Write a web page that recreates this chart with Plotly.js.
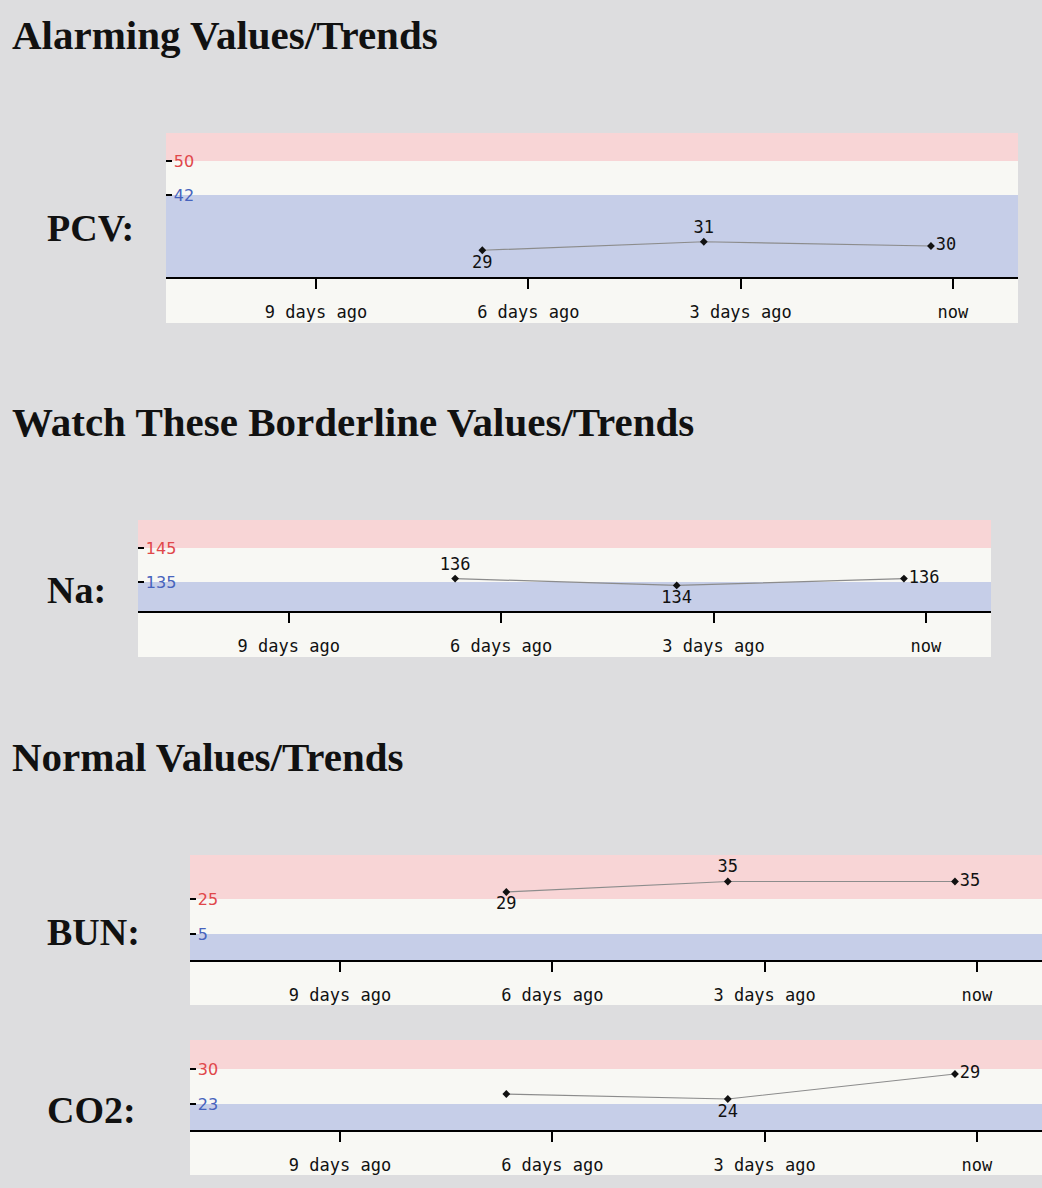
<!DOCTYPE html>
<html>
<head>
<meta charset="utf-8">
<script src="https://cdn.plot.ly/plotly-3.0.1.min.js"></script>
<style>
  html, body { margin: 0; padding: 0; background: #dedee0; }
  #chart { width: 1042px; height: 1188px; }
</style>
</head>
<body>
<div id="chart"></div>
<script>
// ---------- data ----------
const sectionTitles = ['Alarming Values/Trends', 'Watch These Borderline Values/Trends', 'Normal Values/Trends'];
const testNames = ['PCV:', 'Na:', 'BUN:', 'CO2:'];
const daysAgo = [-6.65, -3.52, -0.31];
const tickDays = [-9, -6, -3, 0];
const tickLabels = ['9 days ago', '6 days ago', '3 days ago', 'now'];

const pcvValues = [29, 31, 30];
const naValues = [136, 134, 136];
const bunValues = [29, 35, 35];
const co2Values = [25, 24, 29];

const pcvLabels = ['29', '31', '30'];
const naLabels = ['136', '134', '136'];
const bunLabels = ['29', '35', '35'];
const co2Labels = ['', '24', '29'];

const lowLimits = [42, 135, 5, 23];
const highLimits = [50, 145, 25, 30];

// ---------- layout geometry (pixels of the 1042x1188 page) ----------
const W = 1042, H = 1188;
const panels = [
  {left: 166, right: 1018, top: 133, axis: 277, bottom: 323, yRange: [22.71, 56.59], xRange: [-11.12, 0.92], pos: ['bottom center', 'top center', 'middle right'], titleY: 228},
  {left: 138, right: 991,  top: 520, axis: 611, bottom: 657, yRange: [126.47, 153.24], xRange: [-11.13, 0.92], pos: ['top center', 'bottom center', 'middle right'], titleY: 590},
  {left: 190, right: 1042, top: 855, axis: 960, bottom: 1005, yRange: [-9.86, 50.14], xRange: [-11.12, 0.92], pos: ['bottom center', 'top center', 'middle right'], titleY: 932},
  {left: 190, right: 1042, top: 1040, axis: 1130, bottom: 1175, yRange: [17.8, 35.8], xRange: [-11.12, 0.92], pos: ['top center', 'bottom center', 'middle right'], titleY: 1110}
];
const sectionY = [35, 422, 757];

const seriesValues = [pcvValues, naValues, bunValues, co2Values];
const seriesLabels = [pcvLabels, naLabels, bunLabels, co2Labels];

const PINK = '#f8d5d6';
const BLUE = '#c6cee8';
const WHITE = '#f8f8f4';
const RED_TXT = '#e0474a';
const BLUE_TXT = '#4763bd';

const traces = [];
const shapes = [];
const annotations = [];
const layout = {
  width: W, height: H,
  margin: {l: 0, r: 0, t: 0, b: 0},
  paper_bgcolor: '#dddddf',
  plot_bgcolor: 'rgba(0,0,0,0)',
  showlegend: false,
  font: {family: 'DejaVu Sans Mono', color: '#111'}
};

panels.forEach((p, i) => {
  const n = i === 0 ? '' : String(i + 1);
  const xa = 'x' + n, ya = 'y' + n;
  layout['xaxis' + n] = {
    domain: [p.left / W, p.right / W],
    range: p.xRange,
    anchor: ya,
    showgrid: false, zeroline: false,
    showline: true, linecolor: '#000', linewidth: 2,
    ticks: 'outside', ticklen: 10, tickwidth: 2, tickcolor: '#000',
    tickvals: tickDays, ticktext: tickLabels,
    ticklabelstandoff: 9,
    tickfont: {family: 'DejaVu Sans Mono', size: 17, color: '#111'},
    fixedrange: true
  };
  layout['yaxis' + n] = {
    domain: [1 - p.axis / H, 1 - p.top / H],
    range: p.yRange,
    anchor: xa,
    showgrid: false, zeroline: false, showline: false,
    ticks: 'inside', ticklen: 6, tickwidth: 1.5, tickcolor: '#000',
    ticklabelposition: 'inside',
    ticklabelstandoff: 2,
    tickvals: [lowLimits[i], highLimits[i]],
    ticktext: ['<span style="color:' + BLUE_TXT + '">' + lowLimits[i] + '</span>',
               '<span style="color:' + RED_TXT + '">' + highLimits[i] + '</span>'],
    tickfont: {family: 'DejaVu Sans', size: 16},
    fixedrange: true
  };
  // panel white background including axis label area
  shapes.push({type: 'rect', xref: 'paper', yref: 'paper', layer: 'below',
    x0: p.left / W, x1: p.right / W, y0: 1 - p.bottom / H, y1: 1 - p.top / H,
    fillcolor: WHITE, line: {width: 0}});
  // high (pink) band
  shapes.push({type: 'rect', xref: xa + ' domain', yref: ya, layer: 'below',
    x0: 0, x1: 1, y0: highLimits[i], y1: p.yRange[1], fillcolor: PINK, line: {width: 0}});
  // low (blue) band
  shapes.push({type: 'rect', xref: xa + ' domain', yref: ya, layer: 'below',
    x0: 0, x1: 1, y0: p.yRange[0], y1: lowLimits[i], fillcolor: BLUE, line: {width: 0}});

  traces.push({
    type: 'scatter', mode: 'lines+markers+text',
    x: daysAgo, y: seriesValues[i], xaxis: xa, yaxis: ya,
    text: seriesLabels[i], textposition: p.pos,
    textfont: {family: 'DejaVu Sans Mono', size: 17, color: '#111'},
    line: {color: '#8c8c8c', width: 1.2},
    marker: {symbol: 'diamond', size: 6, color: '#111'},
    cliponaxis: false, hoverinfo: 'skip'
  });

  annotations.push({xref: 'paper', yref: 'paper', x: 45 / W, y: 1 - p.titleY / H,
    xanchor: 'left', yanchor: 'middle', showarrow: false, text: testNames[i],
    font: {family: 'Liberation Serif', size: 38, weight: 'bold', color: '#111'}});
});

sectionTitles.forEach((t, k) => {
  annotations.push({xref: 'paper', yref: 'paper', x: 10 / W, y: 1 - sectionY[k] / H,
    xanchor: 'left', yanchor: 'middle', showarrow: false, text: t,
    font: {family: 'Liberation Serif', size: 41, weight: 'bold', color: '#111'}});
});

layout.shapes = shapes;
layout.annotations = annotations;

Plotly.newPlot('chart', traces, layout, {displayModeBar: false, staticPlot: true});
</script>
</body>
</html>
